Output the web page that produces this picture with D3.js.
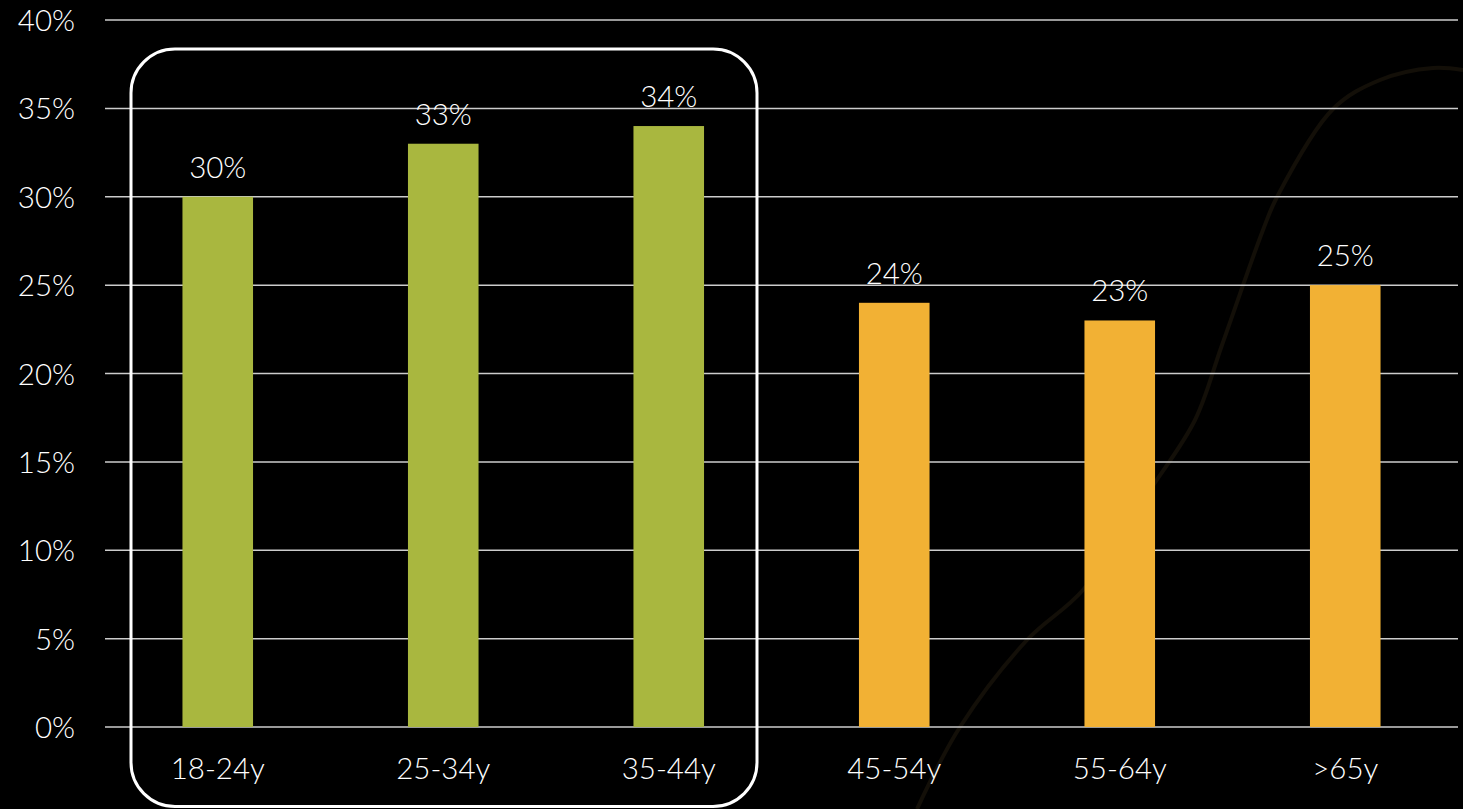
<!DOCTYPE html>
<html>
<head>
<meta charset="utf-8">
<script src="https://cdn.jsdelivr.net/npm/d3@7"></script>
<style>
  html, body { margin: 0; padding: 0; background: #000; }
  svg { display: block; }
  text { font-family: Lato, "Open Sans", sans-serif; font-weight: 300; fill: #fff; }
</style>
</head>
<body>
<svg id="chart" width="1463" height="809"></svg>
<script>
const categories = ["18-24y", "25-34y", "35-44y", "45-54y", "55-64y", ">65y"];
const values = [30, 33, 34, 24, 23, 25];
const groups = ["young", "young", "young", "old", "old", "old"];
const yTicks = [0, 5, 10, 15, 20, 25, 30, 35, 40];
const groupColors = { young: "#A9B73F", old: "#F2B134" };
// decorative faint background curve (pixel space)
const decoCurve = [[917,809],[960,727],[1027,640],[1083,590],[1150,490],[1195,420],[1222,345],[1263,230],[1277,197],[1333,109],[1380,80],[1433,68],[1463,70]];

const W = 1463, H = 809;
const margin = { left: 105, right: 5, top: 20, bottom: 82 };
const FS = 29.5;
const svg = d3.select("#chart");

svg.append("rect").attr("width", W).attr("height", H).attr("fill", "#000");

// background curve
svg.append("path")
  .attr("d", d3.line().curve(d3.curveCatmullRom)(decoCurve))
  .attr("fill", "none")
  .attr("stroke", "#130f08")
  .attr("stroke-width", 4);

const x = d3.scaleBand().domain(categories).range([margin.left, W - margin.right]).padding(0);
const y = d3.scaleLinear().domain([0, 40]).range([H - margin.bottom, margin.top]);

// gridlines
svg.append("g").selectAll("line").data(yTicks).join("line")
  .attr("x1", margin.left).attr("x2", W - margin.right)
  .attr("y1", d => y(d)).attr("y2", d => y(d))
  .attr("stroke", "#cccccc").attr("stroke-width", 1.5);

// y tick labels
svg.append("g").selectAll("text").data(yTicks).join("text")
  .attr("x", 75).attr("y", d => y(d) + 11)
  .attr("text-anchor", "end")
  .attr("font-size", FS)
  .text(d => d + "%");

const barW = x.bandwidth() * 0.313;

// bars
svg.append("g").selectAll("rect").data(values).join("rect")
  .attr("x", (d, i) => x(categories[i]) + x.bandwidth() / 2 - barW / 2)
  .attr("width", barW)
  .attr("y", d => y(d))
  .attr("height", d => y(0) - y(d))
  .attr("fill", (d, i) => groupColors[groups[i]]);

// value labels
svg.append("g").selectAll("text").data(values).join("text")
  .attr("x", (d, i) => x(categories[i]) + x.bandwidth() / 2)
  .attr("y", d => y(d) - 19)
  .attr("text-anchor", "middle")
  .attr("font-size", FS)
  .text(d => d + "%");

// category labels
svg.append("g").selectAll("text").data(categories).join("text")
  .attr("x", d => x(d) + x.bandwidth() / 2)
  .attr("y", y(0) + 52)
  .attr("text-anchor", "middle")
  .attr("font-size", FS)
  .text(d => d);

// highlight rounded box around the first group
const firstGroup = categories.filter((c, i) => groups[i] === "young");
const bx0 = x(firstGroup[0]) + 26;
const bx1 = x(firstGroup[firstGroup.length - 1]) + x.bandwidth() - 24.5;
const by0 = y(40) + 29;
const by1 = H - 2.5;
svg.append("rect")
  .attr("x", bx0).attr("y", by0)
  .attr("width", bx1 - bx0).attr("height", by1 - by0)
  .attr("rx", 44).attr("ry", 44)
  .attr("fill", "none")
  .attr("stroke", "#ffffff")
  .attr("stroke-width", 3);
</script>
</body>
</html>
